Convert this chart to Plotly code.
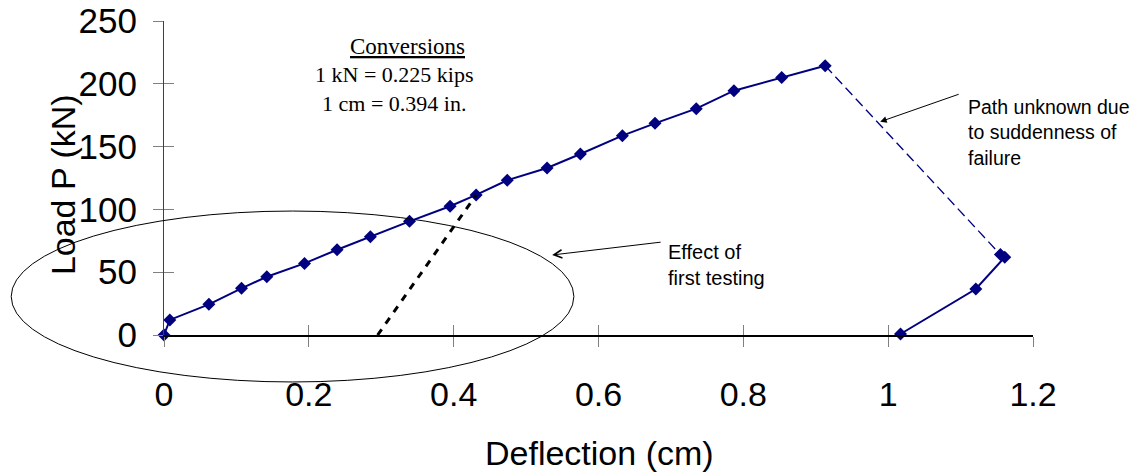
import plotly.graph_objects as go

# Load-deflection data (cm, kN)
defl_load = [0, 0.008, 0.062, 0.107, 0.142, 0.194, 0.239, 0.285, 0.339, 0.395,
             0.431, 0.474, 0.529, 0.575, 0.633, 0.678, 0.735, 0.787, 0.853, 0.913]
load_load = [0, 12, 24.4, 37.2, 46.4, 57, 67.9, 78.3, 90.5, 102.5,
             111.5, 123.2, 133, 144.1, 158.7, 168.5, 180.2, 194.5, 205.1, 214.4]

defl_post = [1.155, 1.161, 1.121, 1.017]
load_post = [64, 62, 36.6, 0.8]

# residual slope from the first test
defl_first = [0.295, 0.431]
load_first = [0, 111.5]

x_ticks = [0, 0.2, 0.4, 0.6, 0.8, 1.0, 1.2]
x_ticktext = ["0", "0.2", "0.4", "0.6", "0.8", "1", "1.2"]
y_ticks = [0, 50, 100, 150, 200, 250]

X_RANGE = [0, 1.2]
Y_RANGE = [0, 250]

NAVY = "#000080"
SANS = "Liberation Sans, Arial, sans-serif"
SERIF = "Liberation Serif, Times New Roman, serif"


def to_paper(x, y):
    return ((x - X_RANGE[0]) / (X_RANGE[1] - X_RANGE[0]),
            (y - Y_RANGE[0]) / (Y_RANGE[1] - Y_RANGE[0]))


fig = go.Figure()

fig.add_trace(go.Scatter(
    x=defl_load, y=load_load, mode="lines+markers",
    line=dict(color=NAVY, width=2),
    marker=dict(symbol="diamond", size=10, color=NAVY),
    cliponaxis=False, showlegend=False,
))
# unknown path to failure
fig.add_trace(go.Scatter(
    x=[defl_load[-1], defl_post[0]], y=[load_load[-1], load_post[0]],
    mode="lines", line=dict(color=NAVY, width=1.3, dash="10px,5px"),
    showlegend=False,
))
fig.add_trace(go.Scatter(
    x=defl_post, y=load_post, mode="lines+markers",
    line=dict(color=NAVY, width=2),
    marker=dict(symbol="diamond", size=10, color=NAVY),
    cliponaxis=False, showlegend=False,
))
fig.add_trace(go.Scatter(
    x=defl_first, y=load_first, mode="lines",
    line=dict(color="black", width=3, dash="7px,7px"),
    xaxis="x2", yaxis="y2", showlegend=False,
))

# ellipse around the first-test effect (paper coords so it is not clipped)
ex0, ey0 = to_paper(-0.211, -37.4)
ex1, ey1 = to_paper(0.566, 98.7)
fig.add_shape(type="circle", xref="paper", yref="paper",
              x0=ex0, y0=ey0, x1=ex1, y1=ey1,
              line=dict(color="black", width=1), layer="above")

fig.add_annotation(
    x=0.28, y=0.92, xref="paper", yref="paper", showarrow=False,
    xanchor="center", yanchor="middle",
    text="<u>Conversions</u>",
    font=dict(family=SERIF, size=23, color="black"),
)
fig.add_annotation(
    x=0.265, y=0.782, xref="paper", yref="paper", showarrow=False,
    xanchor="center", yanchor="middle",
    text="1 kN = 0.225 kips<br>1 cm = 0.394 in.",
    font=dict(family=SERIF, size=22, color="black"), align="center",
)
fig.add_annotation(
    x=0.923, y=0.646, xref="paper", yref="paper", showarrow=False,
    xanchor="left", yanchor="middle", align="left",
    text="Path unknown due<br>to suddenness of<br>failure",
    font=dict(family=SANS, size=19.5, color="black"),
)
fig.add_annotation(
    x=0.578, y=0.2245, xref="paper", yref="paper", showarrow=False,
    xanchor="left", yanchor="middle", align="left",
    text="Effect of<br>first testing",
    font=dict(family=SANS, size=20, color="black"),
)
fig.add_annotation(
    x=0.989, y=169.8, text="", showarrow=True, arrowhead=2,
    arrowsize=1.3, arrowwidth=1, arrowcolor="black", ax=80, ay=-28,
)
fig.add_annotation(
    x=0.536, y=63.7, text="", showarrow=True, arrowhead=5,
    arrowsize=1.6, arrowwidth=1, arrowcolor="black", ax=110, ay=-13,
)

# axis titles
fig.add_annotation(
    x=0.5006, y=-0.376, xref="paper", yref="paper", showarrow=False,
    xanchor="center", yanchor="middle",
    text="Deflection (cm)", font=dict(family=SANS, size=34, color="black"),
)
fig.add_annotation(
    x=-0.116, y=0.478, xref="paper", yref="paper", showarrow=False,
    xanchor="center", yanchor="middle",
    text="Load P (kN)", textangle=-90,
    font=dict(family=SANS, size=34, color="black"),
)

# the page adds an 8px body margin, so the plot box is offset by that
fig.update_layout(
    width=1140, height=476,
    margin=dict(l=156, r=115, t=13, b=149),
    paper_bgcolor="white", plot_bgcolor="white",
    font=dict(family=SANS, size=34, color="black"),
    xaxis=dict(
        range=X_RANGE, tickvals=x_ticks, ticktext=x_ticktext,
        showgrid=False, zeroline=False, showline=True, automargin=False,
        linecolor="black", linewidth=1.5, ticklabeloverflow="allow",
        ticks="outside", ticklen=10, tickcolor="#808080", tickwidth=1,
        ticklabelstandoff=18,
    ),
    yaxis=dict(
        range=Y_RANGE, tickvals=y_ticks,
        showgrid=False, zeroline=False, showline=True, automargin=False,
        linecolor="#404040", linewidth=1, ticklabeloverflow="allow",
        ticks="outside", ticklen=10, tickcolor="#808080", tickwidth=1,
        ticklabelstandoff=9, tickfont=dict(size=35),
    ),
    xaxis2=dict(
        range=X_RANGE, tickvals=x_ticks, overlaying="x", anchor="y2",
        showgrid=False, zeroline=False, showline=False, showticklabels=False,
        automargin=False,
        ticks="inside", ticklen=10, tickcolor="#808080", tickwidth=1,
    ),
    yaxis2=dict(
        range=Y_RANGE, tickvals=y_ticks, overlaying="y", anchor="x2",
        showgrid=False, zeroline=False, showline=False, showticklabels=False,
        automargin=False,
        ticks="inside", ticklen=10, tickcolor="#808080", tickwidth=1,
    ),
)

fig.write_html("out.html")
